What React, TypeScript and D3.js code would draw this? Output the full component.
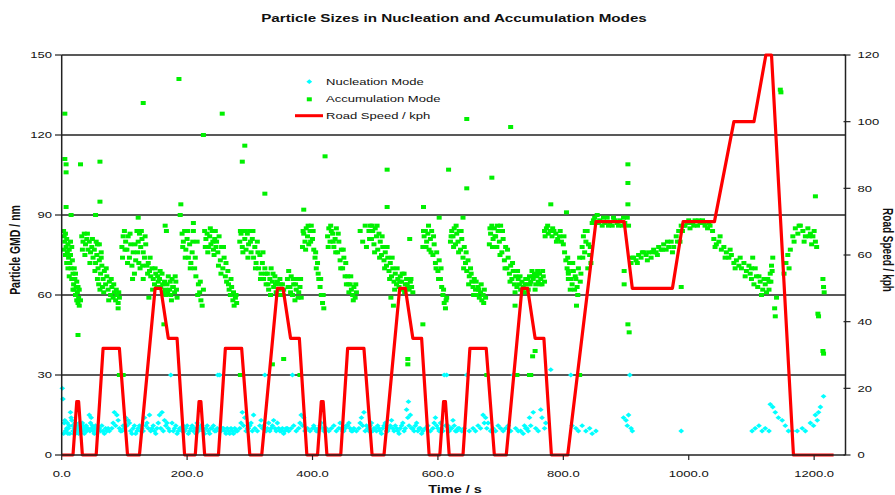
import * as d3 from 'd3';

// Road speed trace (s, kph)
const roadSpeed: [number, number][] = [
  [0, 0], [18, 0], [24, 16], [27, 16], [33, 0], [55, 0], [66, 32], [92, 32], [105, 0], [124, 0], [149, 50], [158, 50], [170, 35], [184, 35], [196, 0],
  [213, 0], [219, 16], [222, 16], [228, 0], [250, 0], [261, 32], [287, 32], [300, 0], [319, 0], [344, 50], [353, 50], [365, 35], [379, 35], [391, 0],
  [408, 0], [414, 16], [417, 16], [423, 0], [445, 0], [456, 32], [482, 32], [495, 0], [514, 0], [539, 50], [548, 50], [560, 35], [574, 35], [586, 0],
  [603, 0], [609, 16], [612, 16], [618, 0], [640, 0], [651, 32], [677, 32], [690, 0], [709, 0], [734, 50], [743, 50], [755, 35], [769, 35], [781, 0],
  [807, 0], [852, 70], [897, 70], [910, 50], [974, 50], [991, 70], [1041, 70], [1072, 100], [1104, 100], [1123, 120], [1132, 120], [1167, 0], [1231, 0],
];

// Accumulation mode GMD (s, nm)
const accumulationUrban: [number, number][] = [
  [3, 84], [4, 82], [5, 80], [6, 83], [7, 78], [8, 81], [9, 76], [10, 79], [11, 74], [12, 77], [13, 72], [14, 75], [15, 70], [16, 66], [17, 73], [18, 68], [19, 64], [20, 62], [21, 66], [22, 60], [23, 63], [24, 58], [25, 61], [26, 57], [27, 59], [28, 56], [30, 58],
  [32, 82], [34, 80], [36, 83], [38, 79], [40, 81], [42, 77], [44, 80], [46, 76], [48, 78], [50, 74], [52, 77], [54, 72], [56, 75], [58, 70], [60, 73], [62, 68], [64, 71], [66, 66], [68, 69], [70, 64], [72, 67], [74, 62], [76, 65], [78, 60], [80, 63], [82, 59], [84, 61], [86, 58], [88, 60], [90, 57], [92, 59], [55, 80], [60, 79], [63, 76], [57, 66], [61, 62], [65, 63],
  [96, 78], [98, 82], [100, 84], [102, 80], [104, 77], [106, 82], [108, 74], [110, 79], [112, 71], [114, 76], [116, 68], [118, 73], [120, 84], [122, 80], [124, 83], [126, 78], [128, 81], [130, 76], [132, 74], [134, 79], [136, 71], [138, 72], [140, 69], [142, 67], [144, 70], [146, 66], [148, 64], [150, 68], [152, 63], [154, 65], [125, 70], [130, 66],
  [156, 66], [158, 63], [160, 68], [162, 61], [164, 65], [166, 60], [168, 64], [170, 67], [172, 62], [174, 60], [176, 66], [178, 63], [180, 61], [182, 65], [184, 59], [175, 58],
  [192, 83], [194, 80], [196, 84], [198, 77], [200, 81], [202, 74], [204, 79], [206, 72], [208, 76], [210, 84], [212, 70], [214, 67], [216, 80], [218, 64], [220, 61], [222, 58], [224, 56], [226, 62], [228, 84], [230, 81], [232, 83], [234, 78], [236, 82], [238, 79], [240, 84], [242, 77], [244, 81],
  [245, 84], [247, 80], [249, 76], [251, 82], [253, 73], [255, 78], [257, 70], [259, 74], [261, 67], [263, 65], [265, 69], [267, 62], [269, 60], [271, 63], [273, 58], [275, 56], [277, 59], [279, 57],
  [284, 80], [286, 83], [288, 78], [290, 84], [292, 81], [294, 77], [296, 83], [298, 79], [300, 84], [302, 76], [304, 81], [306, 74], [308, 78], [310, 72], [312, 80], [314, 70], [316, 75], [318, 68], [320, 72], [322, 66], [324, 70], [326, 64], [328, 68], [330, 62], [332, 66], [334, 70], [336, 65], [338, 63], [340, 67], [342, 61], [344, 65], [346, 62], [348, 66], [350, 60], [352, 64], [354, 62],
  [360, 66], [362, 69], [364, 63], [366, 67], [368, 60], [370, 64], [372, 58], [374, 62], [376, 66], [378, 61], [380, 63], [382, 59],
  [384, 78], [386, 83], [388, 80], [390, 85], [392, 82], [394, 79], [396, 84], [398, 86], [400, 81], [402, 77], [404, 74], [406, 70], [408, 72], [410, 66], [412, 63], [414, 60], [416, 57], [418, 55],
  [424, 82], [426, 85], [428, 80], [430, 84], [432, 83], [434, 78], [436, 81], [438, 85], [440, 76], [442, 80], [444, 73], [446, 77], [448, 70], [450, 74], [452, 67], [454, 64], [456, 67], [458, 61], [460, 64], [462, 62], [464, 60], [466, 63], [468, 59], [470, 61],
  [476, 84], [480, 80], [484, 86], [486, 78],
  [490, 84], [492, 86], [494, 81], [496, 84], [498, 79], [500, 85], [502, 82], [504, 77], [506, 83], [508, 80], [510, 75], [512, 78], [514, 73], [516, 76], [518, 71], [520, 74], [522, 69], [524, 72], [526, 67], [528, 70], [530, 65], [532, 68], [534, 64], [536, 66], [538, 63], [540, 67], [542, 65], [544, 62], [546, 68], [548, 64], [550, 66], [552, 63], [554, 62], [556, 65], [558, 63], [560, 61], [555, 81],
  [576, 78], [578, 82], [580, 84], [582, 80], [584, 83], [586, 77], [588, 81], [590, 84], [592, 75], [594, 79], [596, 72], [598, 76], [600, 69], [602, 73], [604, 66], [606, 63], [608, 60], [610, 57], [612, 55], [614, 59],
  [620, 80], [622, 84], [624, 82], [626, 85], [628, 79], [630, 83], [632, 80], [634, 84], [636, 77], [638, 81], [640, 74], [642, 78], [644, 72], [646, 69], [648, 73], [650, 67], [652, 70], [654, 65], [656, 63], [658, 66], [660, 62], [662, 60], [664, 63], [666, 59], [668, 61], [670, 58], [672, 60], [674, 62], [676, 59],
  [682, 79], [684, 83], [686, 86], [688, 81], [690, 85], [692, 82], [694, 78], [696, 84], [698, 80], [700, 86], [702, 76], [704, 81], [706, 73], [708, 78], [710, 70], [712, 74], [714, 68], [716, 71], [718, 66], [720, 69], [722, 64], [724, 67], [726, 63], [728, 66], [730, 64], [732, 62], [734, 65], [736, 63], [738, 61], [740, 66], [742, 64], [744, 62],
  [746, 67], [748, 65], [750, 69], [752, 66], [754, 68], [756, 64], [758, 67], [760, 65], [762, 68], [764, 66], [766, 64], [768, 67], [770, 65],
];

// second pass of readings across the same urban teeth
const accumulationUrbanSpread: [number, number][] = [
  [4, 77], [6, 75], [8, 72], [10, 70], [12, 67], [14, 80], [16, 78], [18, 62], [20, 70], [22, 68], [24, 65], [26, 63], [28, 62],
  [33, 77], [37, 75], [41, 83], [45, 72], [49, 81], [53, 69], [57, 79], [59, 64], [63, 74], [67, 61], [71, 70], [75, 58], [79, 66], [83, 64], [87, 62], [91, 61],
  [97, 74], [101, 77], [105, 72], [109, 83], [113, 66], [117, 79], [121, 76], [123, 72], [127, 84], [129, 71], [133, 82], [137, 68], [141, 74], [145, 62], [149, 70], [153, 67],
  [157, 69], [161, 64], [165, 62], [169, 61], [173, 65], [177, 63], [181, 67], [183, 62],
  [193, 78], [197, 74], [201, 84], [205, 70], [209, 80], [213, 74], [217, 60], [221, 65], [229, 78], [233, 76], [237, 85], [241, 80], [243, 75],
  [246, 78], [250, 71], [254, 68], [258, 78], [262, 72], [266, 64], [270, 66], [274, 61], [278, 60],
  [285, 84], [289, 76], [293, 84], [297, 74], [301, 80], [305, 84], [309, 70], [313, 76], [317, 66], [321, 76], [325, 68], [329, 64], [333, 60], [337, 68], [341, 64], [345, 60], [349, 64], [353, 60],
  [361, 63], [365, 61], [369, 66], [373, 64], [377, 59], [381, 66],
  [385, 84], [389, 77], [393, 86], [397, 80], [401, 84], [405, 76], [409, 68], [413, 66], [417, 60],
  [425, 78], [429, 86], [433, 80], [437, 76], [441, 83], [445, 70], [449, 77], [453, 72], [457, 64], [461, 67], [465, 58], [469, 64],
  [491, 81], [495, 86], [499, 76], [503, 86], [507, 74], [511, 82], [515, 70], [519, 78], [523, 66], [527, 74], [531, 62], [535, 70], [539, 65], [543, 68], [547, 61], [551, 64], [557, 66],
  [577, 84], [581, 78], [585, 86], [589, 76], [593, 82], [597, 70], [601, 66], [605, 70], [609, 62], [613, 58],
  [621, 82], [625, 78], [629, 86], [633, 76], [637, 84], [641, 70], [645, 76], [649, 64], [653, 68], [657, 60], [661, 65], [665, 62], [669, 64], [673, 57],
  [683, 85], [687, 78], [691, 82], [695, 86], [699, 75], [703, 84], [707, 70], [711, 77], [715, 65], [719, 72], [723, 61], [727, 69], [731, 67], [735, 61], [739, 64], [743, 66],
  [747, 64], [751, 67], [755, 62], [759, 69], [763, 64], [767, 69],
];

const accumulationExtraUrban: [number, number][] = [
  [770, 84], [773, 85], [776, 83], [779, 84], [782, 82], [785, 84], [788, 83], [791, 81], [794, 82], [797, 80], [800, 79], [802, 76], [804, 73], [806, 70], [808, 68], [810, 72], [812, 66], [814, 64], [816, 69], [818, 62], [820, 66], [822, 63], [824, 70], [826, 74], [828, 68], [830, 78], [832, 82], [834, 76], [836, 80], [838, 84], [840, 79], [842, 75], [844, 72],
  [771, 82], [775, 86], [783, 85], [789, 80], [795, 84], [801, 82], [807, 74], [811, 62], [815, 72], [819, 67], [823, 60], [827, 65], [831, 74], [835, 84], [839, 70], [843, 78],
  [846, 87], [850, 89], [854, 90], [858, 88], [862, 86], [866, 87], [870, 89], [874, 87], [878, 86], [882, 88], [886, 87], [890, 88], [894, 86], [898, 87], [902, 89],
  [848, 88], [856, 87], [864, 89], [872, 86], [880, 89], [888, 86], [896, 89], [904, 86],
  [908, 72], [912, 74], [916, 73], [920, 75], [924, 74], [928, 76], [932, 75], [936, 76], [940, 74], [944, 77], [948, 76], [952, 78], [956, 77], [960, 79], [964, 77], [968, 78], [972, 80], [976, 78], [980, 82], [984, 84], [988, 86], [986, 80],
  [910, 74], [918, 72], [926, 76], [934, 73], [942, 76], [950, 75], [958, 77], [966, 80], [974, 76], [982, 80],
  [990, 84], [994, 86], [998, 87], [1002, 85], [1006, 87], [1010, 88], [1014, 86], [1018, 87], [1022, 88], [1026, 86], [1030, 85], [1034, 86], [1038, 84],
  [992, 86], [1000, 88], [1008, 86], [1016, 88], [1024, 87], [1032, 87],
  [1040, 81], [1044, 79], [1048, 80], [1052, 77], [1056, 78], [1060, 76], [1064, 74], [1068, 75], [1072, 72], [1076, 73], [1080, 71], [1084, 70], [1088, 72], [1092, 69], [1096, 71], [1100, 70], [1102, 74],
  [1042, 78], [1050, 82], [1058, 74], [1066, 77], [1074, 70], [1082, 74], [1090, 67], [1098, 68],
  [1100, 66], [1104, 64], [1108, 67], [1110, 63], [1114, 65], [1118, 62], [1122, 64], [1126, 66], [1128, 62], [1130, 68], [1132, 71], [1134, 74], [1131, 65],
  [1106, 70], [1112, 67], [1116, 60], [1120, 66], [1124, 61], [1128, 65], [1133, 69],
  [1152, 68], [1155, 72], [1158, 75], [1160, 70], [1162, 77],
  [1166, 82], [1170, 85], [1174, 83], [1178, 86], [1182, 84], [1186, 82], [1190, 85], [1194, 83], [1198, 82], [1202, 80], [1204, 78], [1196, 79],
  [1168, 80], [1176, 86], [1184, 80], [1192, 82], [1200, 84],
  [1214, 66], [1215, 63], [1216, 61],
];

const accumulationOutliers: [number, number][] = [
  [5, 128], [130, 132], [187, 141], [226, 120], [5, 111], [7, 109], [7, 106], [30, 109], [61, 110], [7, 93], [61, 95], [190, 94], [15, 90], [54, 90], [122, 89], [189, 90], [210, 87], [167, 84], [165, 86],
  [26, 45], [92, 30], [98, 30], [90, 55], [139, 59], [163, 49],
  [256, 128], [292, 116], [288, 110], [324, 98], [420, 112], [386, 92], [354, 36], [336, 34], [380, 30], [285, 30],
  [646, 126], [716, 123], [519, 107], [617, 107], [686, 104], [646, 100], [519, 93], [577, 93], [602, 89], [640, 89], [576, 49], [552, 36], [552, 34], [678, 30], [726, 30], [746, 30], [723, 56], [525, 59], [529, 56],
  [903, 109], [903, 102], [903, 94], [780, 94], [805, 91], [897, 69], [897, 64], [903, 49], [905, 46], [751, 37], [755, 39], [821, 56], [988, 63], [748, 30], [826, 30], [808, 69], [808, 66],
  [1146, 137], [1147, 136], [1202, 97], [1137, 55], [1138, 52], [1140, 59], [1206, 53], [1207, 52], [1214, 39], [1215, 38],
];

// Nucleation mode GMD (s, nm)
const nucleationUrban: [number, number][] = [
  [1, 25], [2, 21], [4, 12], [6, 9], [8, 10], [10, 8], [12, 11], [14, 16], [16, 13], [18, 9], [20, 10], [22, 8], [24, 11], [26, 9], [28, 12], [30, 10], [32, 9], [34, 11], [36, 8], [38, 10], [40, 9], [44, 15], [46, 12], [48, 10], [50, 9], [54, 11], [56, 8], [58, 10], [62, 9], [64, 11], [68, 8], [70, 10], [72, 9], [84, 16], [88, 15], [90, 13], [92, 10], [96, 9], [98, 11], [102, 14], [106, 13], [108, 12], [110, 9], [114, 10], [118, 8], [122, 10], [126, 9], [132, 14], [136, 12], [138, 10], [140, 15], [142, 9], [146, 11], [150, 8], [156, 15], [160, 16], [164, 13], [166, 11], [170, 10], [174, 30], [176, 12], [178, 9], [184, 8], [190, 10], [196, 9], [200, 11], [206, 10], [210, 9], [216, 12], [220, 10], [226, 9], [232, 11], [238, 10], [244, 9], [249, 30],
  [252, 30], [254, 9], [258, 10], [262, 8], [266, 9], [270, 10], [274, 8], [278, 9], [286, 12], [288, 16], [292, 14], [296, 10], [300, 11], [304, 9], [306, 15], [318, 13], [322, 11], [324, 30], [326, 9], [330, 12], [334, 10], [338, 13], [342, 9], [346, 10], [350, 9], [354, 8], [358, 10], [368, 30], [382, 15], [386, 14], [404, 10], [408, 9], [412, 11], [416, 10], [446, 10], [450, 9], [456, 11], [460, 10], [464, 9], [478, 14], [482, 16], [486, 11], [490, 9], [494, 12], [498, 10],
  [502, 9], [506, 10], [510, 8], [514, 11], [518, 9], [522, 10], [526, 13], [530, 9], [534, 10], [538, 8], [542, 11], [546, 9], [550, 17], [552, 14], [553, 20], [556, 15], [558, 10], [562, 9], [566, 12], [570, 10], [574, 8], [596, 14], [600, 10], [604, 12], [608, 9], [610, 30], [614, 30], [616, 11], [620, 10], [624, 13], [628, 9], [632, 10], [646, 30], [672, 15], [676, 14], [680, 12], [720, 30], [732, 9], [736, 8], [740, 10], [744, 9],
];

const nucleationUrbanSpread: [number, number][] = [
  [3, 8], [5, 13], [7, 9], [9, 12], [11, 10], [13, 8], [15, 14], [17, 11], [19, 8], [21, 12], [23, 9], [25, 10], [27, 8], [29, 11], [31, 9], [33, 12], [35, 10], [37, 9], [39, 11], [42, 10], [45, 9], [47, 14], [49, 11], [52, 8], [53, 10], [57, 9], [60, 10], [66, 9], [74, 10], [76, 9], [80, 10], [82, 12], [86, 11], [94, 9], [100, 10], [104, 11], [112, 8], [116, 11], [120, 9], [124, 11], [128, 10], [130, 9], [134, 11], [144, 10], [148, 9], [152, 10], [154, 12], [158, 10], [162, 9], [168, 12], [172, 9], [180, 10], [182, 11], [186, 9], [188, 10], [192, 9], [194, 11], [198, 10], [202, 8], [204, 9], [208, 11], [212, 10], [214, 8], [218, 9], [222, 11], [224, 10], [228, 8], [230, 10], [234, 9], [236, 8], [240, 10], [242, 11], [246, 9], [248, 10],
  [256, 10], [260, 9], [264, 10], [268, 8], [272, 9], [276, 10], [280, 9], [284, 10], [290, 11], [294, 9], [298, 10], [302, 12], [308, 10], [312, 9], [316, 11], [320, 10], [328, 10], [332, 9], [336, 11], [340, 10], [344, 12], [348, 9], [352, 10], [356, 9], [360, 10], [362, 9], [366, 10], [370, 11], [374, 9], [378, 10], [380, 12], [384, 11], [388, 9], [392, 10], [396, 9], [400, 10], [402, 11], [406, 9], [410, 10], [414, 12], [418, 9], [422, 10], [426, 9], [430, 10], [434, 11], [438, 9], [442, 10], [444, 12], [448, 9], [452, 10], [454, 11], [458, 12], [462, 9], [466, 10], [470, 9], [474, 10], [476, 12], [480, 11], [484, 9], [488, 10], [492, 11], [496, 9],
  [500, 10], [504, 11], [508, 9], [512, 10], [516, 12], [520, 9], [524, 11], [528, 10], [532, 11], [536, 9], [540, 10], [544, 12], [548, 10], [554, 11], [560, 10], [564, 11], [568, 9], [572, 10], [576, 9], [580, 10], [584, 11], [588, 9], [592, 10], [594, 12], [598, 11], [602, 9], [606, 10], [612, 11], [618, 9], [622, 10], [626, 11], [630, 9], [634, 10], [638, 9], [642, 10], [650, 9], [656, 10], [660, 9], [664, 11], [668, 10], [674, 12], [678, 10], [684, 9], [688, 10], [692, 9], [696, 11], [700, 10], [704, 9], [708, 10], [712, 11], [716, 9], [724, 10], [728, 9], [738, 11], [742, 10],
];

const nucleationExtraUrban: [number, number][] = [
  [746, 14], [748, 11], [752, 16], [756, 10], [760, 9], [764, 17], [766, 14], [770, 10], [772, 12], [780, 32], [812, 30], [814, 11], [820, 10], [824, 9], [830, 11], [836, 9], [842, 10], [846, 8], [852, 9], [896, 14], [900, 13], [902, 11], [904, 15], [906, 30], [908, 10], [910, 9], [988, 9],
  [1101, 9], [1106, 10], [1112, 11], [1117, 9], [1122, 10], [1128, 9], [1130, 19], [1134, 18], [1138, 16], [1143, 14], [1149, 13], [1154, 11], [1159, 9], [1165, 9], [1173, 9], [1181, 10], [1186, 9], [1194, 12], [1199, 11], [1202, 15], [1205, 13], [1207, 16], [1210, 18], [1215, 22],
];

const X_TICKS = [0, 200, 400, 600, 800, 1000, 1200];
const LEFT_TICKS = [0, 30, 60, 90, 120, 150];
const RIGHT_TICKS = [0, 20, 40, 60, 80, 100, 120];
const LEGEND = ['Nucleation Mode', 'Accumulation Mode', 'Road Speed / kph'];

const W = 895;
const H = 495;
const SX = 1.45; // text in the source is stretched horizontally
const FONT = 'Liberation Sans, Arial, sans-serif';

export default function App() {
  const x = d3.scaleLinear().domain([0, 1250]).range([61.7, 845.5]);
  const yL = d3.scaleLinear().domain([0, 150]).range([455, 55]);
  const yR = d3.scaleLinear().domain([0, 120]).range([455, 55]);

  const line = d3
    .line<[number, number]>()
    .x((d) => x(d[0]))
    .y((d) => yR(d[1]));

  const accumulation = [...accumulationUrban, ...accumulationUrbanSpread, ...accumulationExtraUrban, ...accumulationOutliers];
  const nucleation = [...nucleationUrban, ...nucleationUrbanSpread, ...nucleationExtraUrban];

  const [x0, x1] = x.range();
  const axisColor = '#222';

  return (
    <svg width={W} height={H} style={{ position: 'absolute', left: 0, top: 0, background: '#fff' }} fontFamily={FONT}>
      {/* title */}
      <text transform={`translate(454,22) scale(${SX},1)`} textAnchor="middle" fontSize={10.5} fontWeight="bold" fill="#111">
        Particle Sizes in Nucleation and Accumulation Modes
      </text>

      {/* horizontal grid */}
      {LEFT_TICKS.filter((t) => t > 0).map((t) => (
        <line key={t} x1={x0} x2={x1} y1={yL(t)} y2={yL(t)} stroke={axisColor} strokeWidth={1.4} />
      ))}

      {/* nucleation */}
      {nucleation.map((d, i) => (
        <path key={`n${i}`} d="M0,-2.4L2.9,0L0,2.4L-2.9,0Z" transform={`translate(${x(d[0])},${yL(d[1])})`} fill="#00ffff" />
      ))}

      {/* accumulation */}
      {accumulation.map((d, i) => (
        <rect key={`a${i}`} x={x(d[0]) - 2.5} y={yL(d[1]) - 2} width={5} height={4} fill="#00f000" />
      ))}

      {/* road speed */}
      <path d={line(roadSpeed) ?? ''} fill="none" stroke="#ff0000" strokeWidth={3.2} strokeLinejoin="round" />

      {/* axes */}
      <line x1={x0} x2={x0} y1={55} y2={455} stroke={axisColor} strokeWidth={1.5} />
      <line x1={x1} x2={x1} y1={55} y2={455} stroke={axisColor} strokeWidth={1.5} />
      <line x1={x0} x2={x1} y1={455} y2={455} stroke={axisColor} strokeWidth={1.5} />

      {LEFT_TICKS.map((t) => (
        <g key={`l${t}`}>
          <line x1={55} x2={x0} y1={yL(t)} y2={yL(t)} stroke={axisColor} strokeWidth={1.2} />
          <text transform={`translate(52,${yL(t) + 3.3}) scale(${SX},1)`} textAnchor="end" fontSize={9} fill="#111">
            {t}
          </text>
        </g>
      ))}

      {RIGHT_TICKS.map((t) => (
        <g key={`r${t}`}>
          <line x1={x1 - 2} x2={x1 + 5} y1={yR(t)} y2={yR(t)} stroke={axisColor} strokeWidth={1.2} />
          <text transform={`translate(857.5,${yR(t) + 3.3}) scale(${SX},1)`} textAnchor="start" fontSize={9} fill="#111">
            {t}
          </text>
        </g>
      ))}

      {X_TICKS.map((t) => (
        <g key={`x${t}`}>
          <line x1={x(t)} x2={x(t)} y1={455} y2={460} stroke={axisColor} strokeWidth={1.2} />
          <text transform={`translate(${x(t)},476.5) scale(${SX},1)`} textAnchor="middle" fontSize={9} fill="#111">
            {t.toFixed(1)}
          </text>
        </g>
      ))}

      {/* axis titles */}
      <text transform={`translate(455,493) scale(${SX},1)`} textAnchor="middle" fontSize={10} fontWeight="bold" fill="#111">
        Time / s
      </text>
      <text transform={`translate(20,250) scale(${SX},1) rotate(-90)`} textAnchor="middle" fontSize={10.5} fontWeight="bold" fill="#111">
        Particle GMD / nm
      </text>
      <text transform={`translate(882.5,250) scale(${SX},1) rotate(90)`} textAnchor="middle" fontSize={10} fontWeight="bold" fill="#111">
        Road Speed / kph
      </text>

      {/* legend */}
      <path d="M0,-2.4L2.9,0L0,2.4L-2.9,0Z" transform="translate(309.3,81.7)" fill="#00ffff" />
      <rect x={306.8} y={97.3} width={5} height={4} fill="#00f000" />
      <line x1={295} x2={323} y1={115.7} y2={115.7} stroke="#ff0000" strokeWidth={3} />
      {LEGEND.map((label, i) => (
        <text key={label} transform={`translate(326,${85 + i * 17.2}) scale(${SX},1)`} fontSize={9} fill="#111">
          {label}
        </text>
      ))}
    </svg>
  );
}
